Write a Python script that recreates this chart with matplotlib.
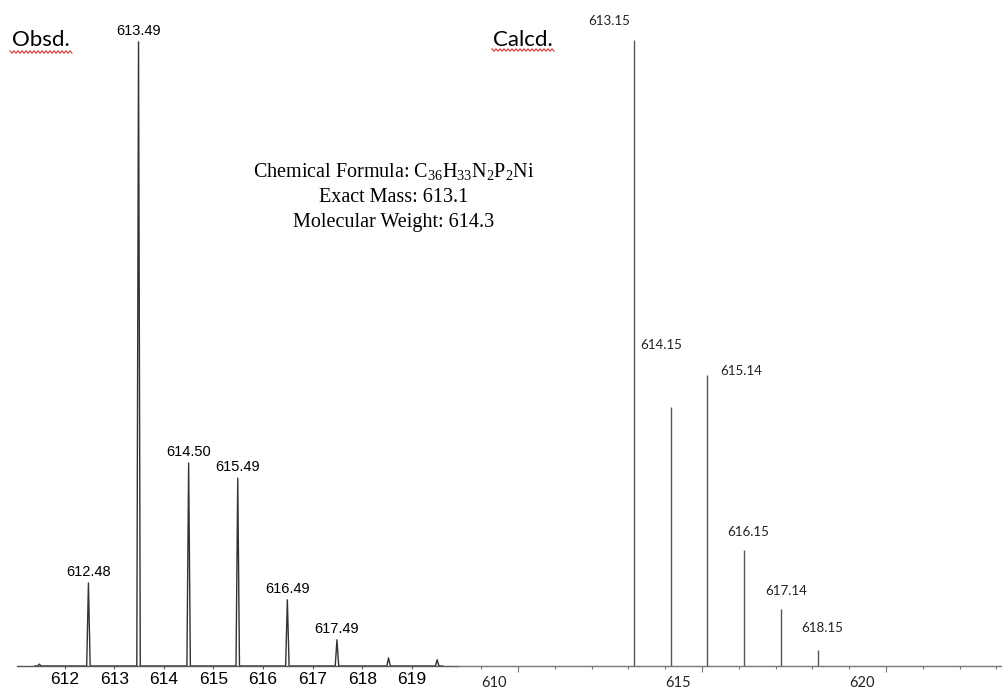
import numpy as np
import matplotlib
matplotlib.use("Agg")
import matplotlib.pyplot as plt
from matplotlib.lines import Line2D
from matplotlib.transforms import ScaledTranslation

# observed spectrum (peak centres / relative heights)
obs_mz = [611.49, 612.48, 613.49, 614.50, 615.49, 616.49, 617.49, 618.53, 619.51]
obs_int = [0.3, 13.3, 100.0, 32.5, 30.1, 10.6, 4.2, 1.3, 1.0]
obs_labels = ["", "612.48", "613.49", "614.50", "615.49", "616.49", "617.49", "", ""]
obs_range = (611.40, 619.62)
obs_ticks = [612, 613, 614, 615, 616, 617, 618, 619]

# calculated isotope pattern
calc_mz = [613.15, 614.15, 615.14, 616.15, 617.14, 618.15]
calc_int = [100.0, 41.4, 46.5, 18.5, 9.1, 2.6]
calc_labels = ["613.15", "614.15", "615.14", "616.15", "617.14", "618.15"]
calc_major = [610, 615, 620]

formula_lines = [r"Chemical Formula: C$\mathregular{_{36}}$H$\mathregular{_{33}}$N$\mathregular{_2}$P$\mathregular{_2}$Ni",
                 "Exact Mass: 613.1",
                 "Molecular Weight: 614.3"]

W, H = 1002, 689
fig = plt.figure(figsize=(W / 100, H / 100), dpi=100)

# ---------- left panel: observed ----------
ax1 = fig.add_axes([17 / W, 23 / H, 441 / W, 666 / H])
half = 0.035
tx = [obs_range[0]]
ty = [0.0]
for m, h in zip(obs_mz, obs_int):
    tx += [m - half, m, m + half]
    ty += [0.0, h, 0.0]
tx.append(obs_range[1])
ty.append(0.0)
ax1.plot(tx, ty, color="#333333", lw=1.0)
for m, h, lab in zip(obs_mz, obs_int, obs_labels):
    if lab:
        ax1.annotate(lab, (m, h), xytext=(0, 3), textcoords="offset points",
                     ha="center", va="bottom", fontsize=10.5,
                     family="Liberation Sans", color="black")
ax1.set_xlim(611.04, 619.93)
ax1.set_ylim(0, 106.7)
ax1.set_xticks(obs_ticks)
ax1.set_xticklabels([str(t) for t in obs_ticks], family="Liberation Sans", fontsize=12.5)
ax1.tick_params(axis="x", direction="out", length=2.5, width=0.8, pad=2, color="#555555")
ax1.set_yticks([])
for s in ["top", "left", "right"]:
    ax1.spines[s].set_visible(False)
ax1.spines["bottom"].set_color("#555555")
ax1.spines["bottom"].set_linewidth(1.0)
ax1.patch.set_alpha(0)

# ---------- right panel: calculated ----------
ax2 = fig.add_axes([454 / W, 23 / H, 548 / W, 666 / H])
ax2.vlines(calc_mz, 0, calc_int, color="#555555", lw=1.0)
# label offsets in pixels from each stick top
lab_off = [(-25, 19), (-10, 62), (34, 4), (4, 18), (5, 18), (4, 22)]
for m, h, lab, off in zip(calc_mz, calc_int, calc_labels, lab_off):
    ax2.annotate(lab, (m, h), xytext=off, textcoords="offset pixels",
                 ha="center", va="center", fontsize=9.6, family="Lato", color="#222222")
ax2.set_xlim(608.26, 623.15)
ax2.set_ylim(0, 106.4)
ax2.set_xticks(calc_major)
ax2.set_xticks(np.arange(609, 624), minor=True)
ax2.set_xticklabels([str(t) for t in calc_major], family="Lato", fontsize=10.5, color="#222222")
ax2.tick_params(axis="x", which="major", direction="out", length=4, width=0.8, pad=3, color="#777777")
ax2.tick_params(axis="x", which="minor", direction="out", length=2.5, width=0.8, color="#777777")
ax2.set_yticks([])
for s in ["top", "left", "right"]:
    ax2.spines[s].set_visible(False)
ax2.spines["bottom"].set_color("#777777")
ax2.spines["bottom"].set_linewidth(1.0)
ax2.patch.set_alpha(0)
shift = ScaledTranslation(-24 / 100, 0, fig.dpi_scale_trans)
for lbl in ax2.get_xticklabels():
    lbl.set_transform(lbl.get_transform() + shift)

# ---------- titles with spell-check underline ----------
def squiggle(x0, x1, y):
    xs = np.arange(x0, x1 + 0.1, 2.0)
    ys = np.where(np.arange(len(xs)) % 2 == 0, y - 1.2, y + 1.2)
    fig.add_artist(Line2D(xs, H - ys, color="#e03030", lw=0.8, transform=None))

fig.text(41 / W, 1 - 40 / H, "Obsd.", ha="center", va="center",
         fontsize=16, family="Lato", color="black")
squiggle(10, 72, 52)
fig.text(523 / W, 1 - 40 / H, "Calcd.", ha="center", va="center",
         fontsize=16, family="Lato", color="black")
squiggle(492, 555, 50)

# ---------- formula block ----------
plt.rcParams["mathtext.fontset"] = "custom"
plt.rcParams["mathtext.rm"] = "Liberation Serif"
for i, line in enumerate(formula_lines):
    fig.text(394 / W, 1 - (172 + 25 * i) / H, line, ha="center", va="center",
             fontsize=14.5, family="Liberation Serif", color="black")

fig.savefig("out.png", dpi=100)
